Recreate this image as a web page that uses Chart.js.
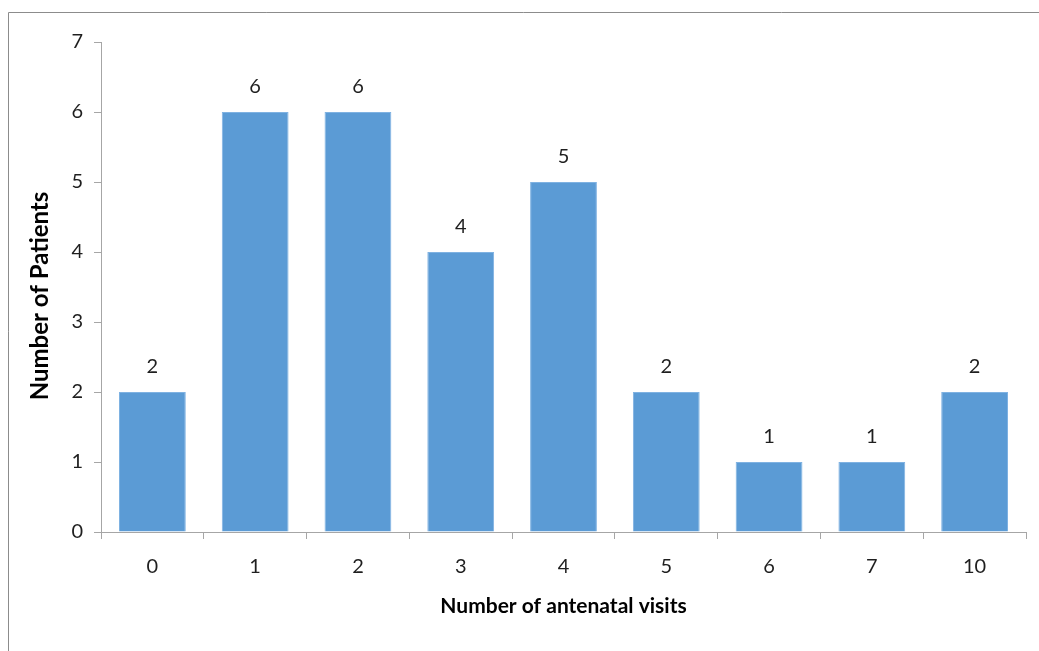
<!DOCTYPE html>
<html>
<head>
<meta charset="utf-8">
<script src="https://cdn.jsdelivr.net/npm/chart.js@4/dist/chart.umd.min.js"></script>
<style>
  html, body { margin: 0; padding: 0; background: #ffffff; }
  #wrap { width: 1039px; height: 651px; position: relative; }
</style>
</head>
<body>
<div id="wrap"><canvas id="chart" width="1039" height="651"></canvas></div>
<script>
// Antenatal visit counts and how many patients had each
const visitCategories = ['0', '1', '2', '3', '4', '5', '6', '7', '10'];
const patientCounts = [2, 6, 6, 4, 5, 2, 1, 1, 2];
const yTickValues = [0, 1, 2, 3, 4, 5, 6, 7];

const xTitle = 'Number of antenatal visits';
const yTitle = 'Number of Patients';

const FONT = 'Lato, "Open Sans", sans-serif';
const TEXT = '#1f1f1f';
const AXIS = '#a6a6a6';

// Frame lines along the top and left edge, rotated y title and value labels
const decorations = {
  id: 'decorations',
  afterDraw(chart) {
    const ctx = chart.ctx;
    ctx.save();
    ctx.strokeStyle = '#8c8c8c';
    ctx.lineWidth = 1;
    ctx.beginPath();
    ctx.moveTo(8.5, 651);
    ctx.lineTo(8.5, 12.5);
    ctx.lineTo(1039, 12.5);
    ctx.stroke();

    // y axis title
    ctx.fillStyle = '#000000';
    ctx.font = 'bold 24px ' + FONT;
    ctx.textAlign = 'center';
    ctx.textBaseline = 'middle';
    ctx.translate(40, 296);
    ctx.rotate(-Math.PI / 2);
    ctx.fillText(yTitle, 0, 0);
    ctx.restore();

    // value labels above each bar
    const meta = chart.getDatasetMeta(0);
    ctx.save();
    ctx.fillStyle = TEXT;
    ctx.font = '20px ' + FONT;
    ctx.textAlign = 'center';
    ctx.textBaseline = 'middle';
    meta.data.forEach((bar, i) => {
      ctx.fillText(String(patientCounts[i]), bar.x, bar.y - 25);
    });
    ctx.restore();
  }
};

new Chart(document.getElementById('chart'), {
  type: 'bar',
  data: {
    labels: visitCategories,
    datasets: [{
      data: patientCounts,
      backgroundColor: '#5b9bd5',
      borderColor: '#7fb2e2',
      borderWidth: 1,
      barPercentage: 0.65,
      categoryPercentage: 1.0
    }]
  },
  options: {
    responsive: false,
    animation: false,
    devicePixelRatio: 1,
    layout: { padding: { top: 42, right: 13, bottom: 0, left: 0 } },
    plugins: {
      legend: { display: false },
      tooltip: { enabled: false }
    },
    scales: {
      x: {
        grid: {
          display: true,
          drawOnChartArea: false,
          drawTicks: true,
          tickLength: 7,
          color: AXIS,
          offset: true
        },
        border: { display: true, color: AXIS, width: 1 },
        ticks: {
          color: TEXT,
          font: { family: FONT, size: 20 },
          padding: 16
        },
        title: {
          display: true,
          text: xTitle,
          color: '#000000',
          font: { family: FONT, size: 21, weight: 'bold' },
          padding: { top: 0, bottom: 32 }
        },
        afterFit(scale) { scale.height = 119; }
      },
      y: {
        min: 0,
        max: 7,
        afterBuildTicks(scale) {
          scale.ticks = yTickValues.map(v => ({ value: v }));
        },
        grid: {
          display: true,
          drawOnChartArea: false,
          drawTicks: true,
          tickLength: 7,
          color: AXIS
        },
        border: { display: true, color: AXIS, width: 1 },
        ticks: {
          color: TEXT,
          font: { family: FONT, size: 20 },
          padding: 11
        },
        afterFit(scale) { scale.width = 101; }
      }
    }
  },
  plugins: [decorations]
});
</script>
</body>
</html>
